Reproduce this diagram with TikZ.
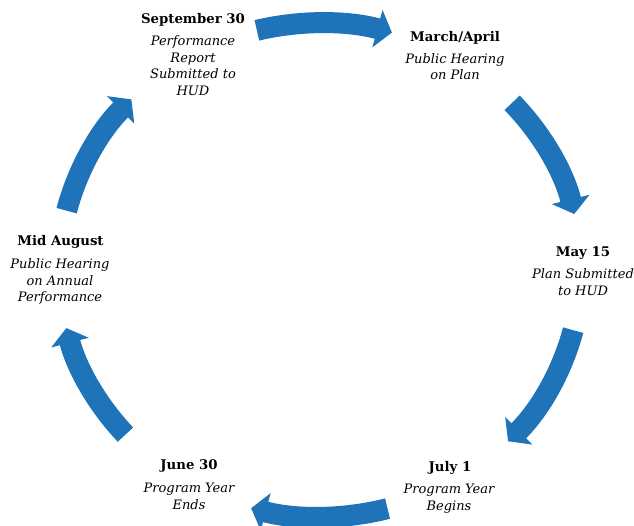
\documentclass[tikz,border=0pt]{standalone}
\usepackage{fontspec}
\setmainfont{DejaVu Serif}
\usetikzlibrary{arrows.meta,calc}
\definecolor{cycblue}{RGB}{30,115,185}
\begin{document}
\begin{tikzpicture}[x=1pt,y=1pt,
  cyc/.style={draw=cycblue, line width=21pt, -{Triangle[width=38pt,length=15pt]}},
  head/.style={font=\fontsize{13.3}{15}\selectfont\bfseries, inner sep=0pt, anchor=base},
  body/.style={font=\fontsize{13}{16.5}\selectfont\itshape, inner sep=0pt, anchor=north, align=center}]
\useasboundingbox (0,0) rectangle (634,525);
\coordinate (c) at (320,255);
% arrow start coordinates on the ellipse
\coordinate (a1) at ($(c)+(104:261pt and 247pt)$);
\coordinate (a2) at ($(c)+(42.6:261pt and 247pt)$);
\coordinate (a3) at ($(c)+(-14.1:261pt and 247pt)$);
\coordinate (a4) at ($(c)+(-75:261pt and 247pt)$);
\coordinate (a5) at ($(c)+(-138.2:261pt and 247pt)$);
\coordinate (a6) at ($(c)+(166.1:261pt and 247pt)$);
\draw[cyc] (a1) arc[start angle=104, end angle=74, x radius=261pt, y radius=247pt];
\draw[cyc] (a2) arc[start angle=42.6, end angle=13.1, x radius=261pt, y radius=247pt];
\draw[cyc] (a3) arc[start angle=-14.1, end angle=-43.9, x radius=261pt, y radius=247pt];
\draw[cyc] (a4) arc[start angle=-75, end angle=-105.3, x radius=261pt, y radius=247pt];
\draw[cyc] (a5) arc[start angle=-138.2, end angle=-166.4, x radius=261pt, y radius=247pt];
\draw[cyc] (a6) arc[start angle=166.1, end angle=136.3, x radius=261pt, y radius=247pt];
% labels
\node[head] (sepH) at (193,501.8) {September 30};
\node[body] (sepB) at (193,491) {\strut Performance\\Report\\Submitted to\\HUD};
\node[head] (marH) at (455,483.4) {March/April};
\node[body] (marB) at (455,473.4) {\strut Public Hearing\\on Plan};
\node[head] (mayH) at (583,268.2) {May 15};
\node[body] (mayB) at (583,258) {\strut Plan Submitted\\to HUD};
\node[head] (julH) at (450,53.2) {July 1};
\node[body] (julB) at (449,43) {\strut Program Year\\Begins};
\node[head] (junH) at (189,55.2) {June 30};
\node[body] (junB) at (189,44) {\strut Program Year\\Ends};
\node[head] (augH) at (60.5,279.2) {Mid August};
\node[body] (augB) at (60,268) {\strut Public Hearing\\on Annual\\Performance};
\end{tikzpicture}
\end{document}
